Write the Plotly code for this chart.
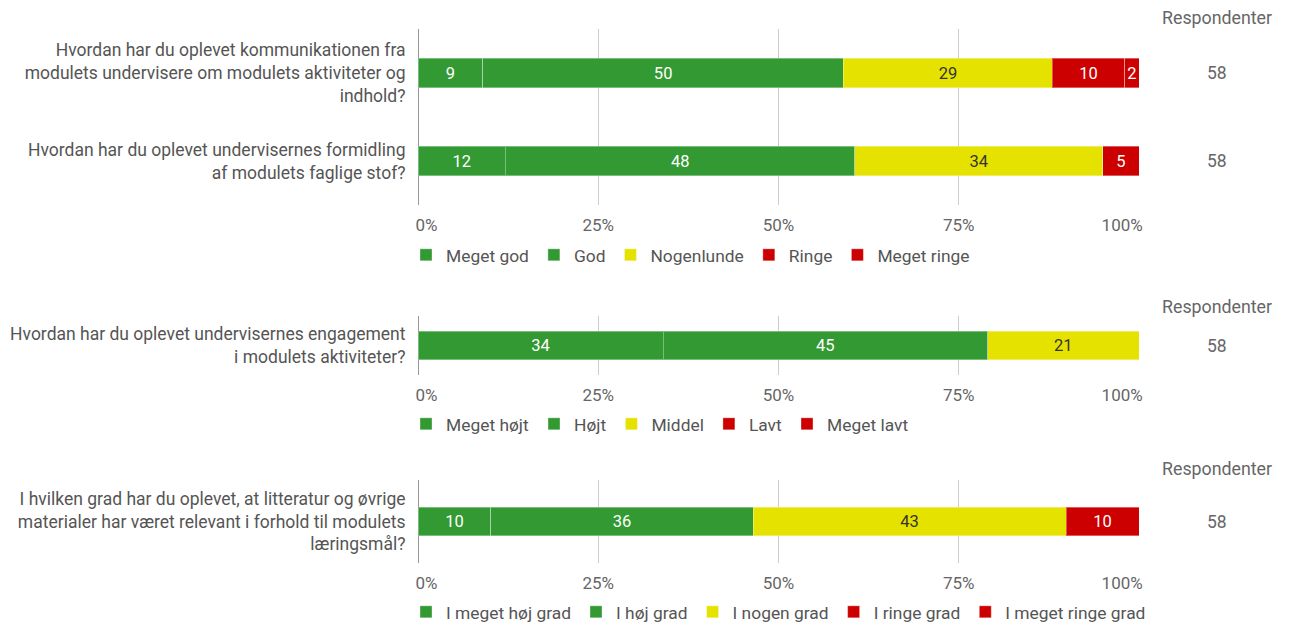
import plotly.graph_objects as go

# ---------------- data ----------------
q1_labels = [
    "Hvordan har du oplevet kommunikationen fra<br>modulets undervisere om modulets aktiviteter og<br>indhold?",
    "Hvordan har du oplevet undervisernes formidling<br>af modulets faglige stof?",
]
q1_categories = ["Meget god", "God", "Nogenlunde", "Ringe", "Meget ringe"]
q1_values = [
    [9, 12],   # Meget god
    [50, 48],  # God
    [29, 34],  # Nogenlunde
    [10, 5],   # Ringe
    [2, 0],    # Meget ringe
]
q1_resp = [58, 58]

q2_labels = ["Hvordan har du oplevet undervisernes engagement<br>i modulets aktiviteter?"]
q2_categories = ["Meget højt", "Højt", "Middel", "Lavt", "Meget lavt"]
q2_values = [[34], [45], [21], [0], [0]]
q2_resp = [58]

q3_labels = ["I hvilken grad har du oplevet, at litteratur og øvrige<br>materialer har været relevant i forhold til modulets<br>læringsmål?"]
q3_categories = ["I meget høj grad", "I høj grad", "I nogen grad", "I ringe grad", "I meget ringe grad"]
q3_values = [[10], [36], [43], [10], [0]]
q3_resp = [58]

tick_vals = [0, 25, 50, 75, 100]
tick_text = ["\u00a0\u00a0\u00a0\u00a00%", "25%", "50%", "75%", "100%\u00a0\u00a0\u00a0\u00a0\u00a0\u00a0\u00a0\u00a0"]

# ---------------- style ----------------
GREEN = "#339933"
YELLOW = "#e6e200"
RED = "#cc0000"
colors = [GREEN, GREEN, YELLOW, RED, RED]
text_colors = ["white", "white", "#333333", "white", "white"]
FONT = "Roboto"
W, H = 1289, 630
OFF = 8  # page body margin offset

def fx(p):
    return (p - OFF) / W

def fy(p):
    return 1 - (p - OFF) / H

x_dom = [fx(418), fx(1139)]

fig = go.Figure()

groups = [
    (q1_labels, q1_categories, q1_values, q1_resp, "x", "y", "legend", 0.33, (29, 205), 256, 18),
    (q2_labels, q2_categories, q2_values, q2_resp, "x2", "y2", "legend2", 0.475, (316, 375), 425, 306),
    (q3_labels, q3_categories, q3_values, q3_resp, "x3", "y3", "legend3", 0.34, (480, 563), 613, 469),
]

annotations = []
for gi, (labels, cats, vals, resp, xa, ya, lg, bw, (top, bot), leg_y, resp_y) in enumerate(groups):
    for ci, cat in enumerate(cats):
        fig.add_trace(go.Bar(
            y=labels, x=vals[ci], name=cat, orientation="h",
            xaxis=xa, yaxis=ya, legend=lg, width=bw,
            marker=dict(color=colors[ci], line=dict(color="rgba(255,255,255,0.35)", width=1)),
            text=[str(v) if v else "" for v in vals[ci]],
            textposition="inside", insidetextanchor="middle", constraintext="none",
            textangle=0,
            textfont=dict(family=FONT, size=16.5, color=text_colors[ci]),
            hoverinfo="skip",
        ))
    sfx = "" if gi == 0 else str(gi + 1)
    fig.update_layout(**{
        "xaxis" + sfx: dict(
            domain=x_dom, anchor=ya, range=[0, 100],
            tickvals=tick_vals, ticktext=tick_text,
            showgrid=True, gridcolor="#cccccc", gridwidth=1,
            zeroline=True, zerolinecolor="#999999", zerolinewidth=1,
            ticks="outside", ticklen=5, tickcolor="rgba(0,0,0,0)",
            tickfont=dict(family=FONT, size=17, color="#666666"),
            fixedrange=True, automargin=False,
        ),
        "yaxis" + sfx: dict(
            domain=[fy(bot), fy(top)], anchor=xa,
            categoryorder="array", categoryarray=labels[::-1],
            range=[-0.5, len(labels) - 0.5],
            ticks="outside", ticklen=8, tickcolor="rgba(0,0,0,0)",
            tickfont=dict(family=FONT, size=17.5, color="#555555"),
            showgrid=False, zeroline=False,
            fixedrange=True, automargin=False,
        ),
        lg: dict(
            orientation="h", x=fx(406), xanchor="left",
            y=fy(leg_y - 1), yanchor="middle",
            font=dict(family=FONT, size=17.4, color="#555555"),
            itemclick=False, itemdoubleclick=False, traceorder="normal",
            bgcolor="rgba(0,0,0,0)",
        ),
    })
    annotations.append(dict(
        text="Respondenter", xref="paper", yref="paper",
        x=fx(1217), y=fy(resp_y), xanchor="center", yanchor="middle",
        showarrow=False, font=dict(family=FONT, size=17.8, color="#666666"),
    ))
    for lab, r in zip(labels, resp):
        annotations.append(dict(
            text=str(r), xref="paper", yref=ya,
            x=fx(1217), y=lab, xanchor="center", yanchor="middle",
            showarrow=False, font=dict(family=FONT, size=17.5, color="#666666"),
        ))

fig.update_layout(
    barmode="stack", barnorm="percent",
    width=W, height=H,
    margin=dict(l=0, r=0, t=0, b=0, autoexpand=False),
    paper_bgcolor="white", plot_bgcolor="white",
    annotations=annotations,
    font=dict(family=FONT),
    showlegend=True,
)

fig.write_html("out.html")
